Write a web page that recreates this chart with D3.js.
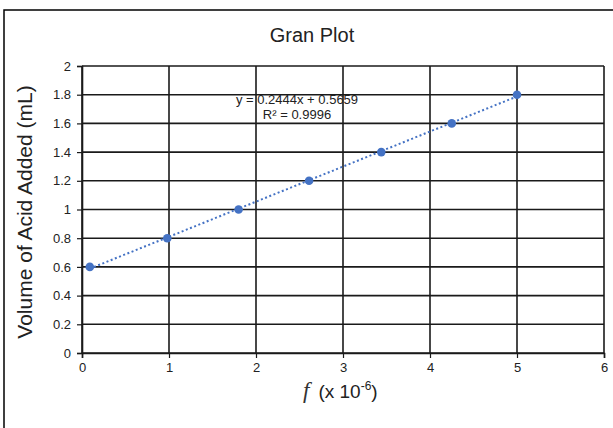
<!DOCTYPE html>
<html><head><meta charset="utf-8">
<script src="https://cdn.jsdelivr.net/npm/d3@7"></script>
<style>body{margin:0;background:#fff}svg{display:block}text{font-family:"Liberation Sans",Arial,sans-serif}</style>
</head><body>
<script>
const xValues = [0.09, 0.98, 1.80, 2.61, 3.44, 4.25, 5.00];
const yValues = [0.6, 0.8, 1.0, 1.2, 1.4, 1.6, 1.8];
const xTicks = [0, 1, 2, 3, 4, 5, 6];
const yTicks = [0, 0.2, 0.4, 0.6, 0.8, 1, 1.2, 1.4, 1.6, 1.8, 2];
const slope = 0.2444, intercept = 0.5659, r2 = "0.9996";
const title = "Gran Plot";
const yLabel = "Volume of Acid Added (mL)";

const W = 613, H = 428;
const svg = d3.select("body").append("svg").attr("width", W).attr("height", H);
svg.append("rect").attr("x", 4).attr("y", 10).attr("width", 640).attr("height", 440)
  .attr("fill", "#fff").attr("stroke", "#000").attr("stroke-width", 1.5);

const L = 82, R = 604, T = 66, B = 353;
const x = d3.scaleLinear().domain([0, 6]).range([L, R]);
const y = d3.scaleLinear().domain([0, 2]).range([B, T]);

// grid
svg.append("g").selectAll("line").data(xTicks).join("line")
  .attr("x1", d => x(d)).attr("x2", d => x(d)).attr("y1", T).attr("y2", B)
  .attr("stroke", "#1a1a1a").attr("stroke-width", 1.6);
svg.append("g").selectAll("line").data(yTicks).join("line")
  .attr("x1", L).attr("x2", R).attr("y1", d => y(d)).attr("y2", d => y(d))
  .attr("stroke", "#1a1a1a").attr("stroke-width", 1.6);

// axes
const xAxis = svg.append("g").attr("transform", `translate(0,${B})`)
  .call(d3.axisBottom(x).tickValues(xTicks).tickFormat(d3.format("d")).tickSize(5).tickPadding(5));
const yAxis = svg.append("g").attr("transform", `translate(${L},0)`)
  .call(d3.axisLeft(y).tickValues(yTicks).tickFormat(d => String(+d.toFixed(1))).tickSize(5).tickPadding(6));
[xAxis, yAxis].forEach(a => {
  a.select(".domain").attr("stroke", "#1a1a1a").attr("stroke-width", 1.6);
  a.selectAll(".tick line").attr("stroke", "#1a1a1a").attr("stroke-width", 1.2);
  a.selectAll("text").attr("font-size", 13).attr("fill", "#222")
    .attr("font-family", "'Liberation Sans', Arial, sans-serif");
});

// trendline
const x0 = d3.min(xValues), x1 = d3.max(xValues);
svg.append("line")
  .attr("x1", x(x0)).attr("y1", y(slope * x0 + intercept))
  .attr("x2", x(x1)).attr("y2", y(slope * x1 + intercept))
  .attr("stroke", "#4472C4").attr("stroke-width", 2).attr("stroke-dasharray", "2,2.5");

// points
svg.append("g").selectAll("circle").data(xValues).join("circle")
  .attr("cx", d => x(d)).attr("cy", (d, i) => y(yValues[i])).attr("r", 4.3)
  .attr("fill", "#4472C4");

// equation
svg.append("text").attr("x", 297).attr("y", 104).attr("text-anchor", "middle")
  .attr("font-size", 13).attr("fill", "#222")
  .text(`y = ${slope}x + ${intercept}`);
svg.append("text").attr("x", 297).attr("y", 119).attr("text-anchor", "middle")
  .attr("font-size", 13).attr("fill", "#222")
  .text(`R² = ${r2}`);

// title
svg.append("text").attr("x", 312).attr("y", 42).attr("text-anchor", "middle")
  .attr("font-size", 20).attr("fill", "#222").text(title);

// y label
svg.append("text").attr("transform", `translate(32,212) rotate(-90)`)
  .attr("text-anchor", "middle").attr("font-size", 21).attr("fill", "#222").text(yLabel);

// x label
const xl = svg.append("text").attr("x", 303).attr("y", 398)
  .attr("fill", "#222").attr("font-size", 19);
xl.append("tspan").attr("font-family", "'Liberation Serif', serif").attr("font-style", "italic")
  .attr("font-size", 23).attr("fill", "#333").text("f");
xl.append("tspan").attr("dx", 9).text("(x 10");
xl.append("tspan").attr("font-size", 12).attr("dy", -8).text("-6");
xl.append("tspan").attr("dy", 8).text(")");
</script>
</body></html>
